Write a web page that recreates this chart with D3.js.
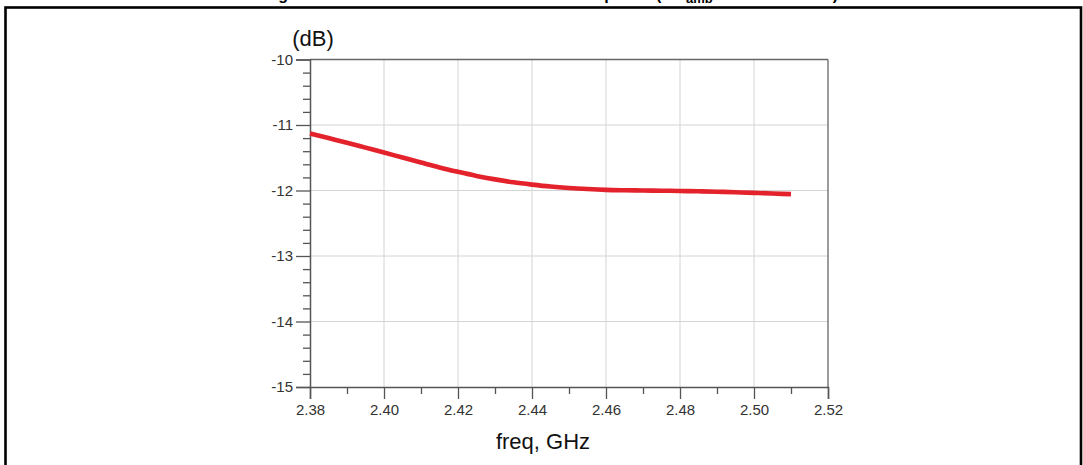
<!DOCTYPE html>
<html>
<head>
<meta charset="utf-8">
<script src="https://cdn.jsdelivr.net/npm/d3@7"></script>
<style>
  html, body { margin: 0; padding: 0; background: #fff; }
  svg { display: block; font-family: "Liberation Sans", Arial, sans-serif; }
</style>
</head>
<body>
<svg id="chart" width="1083" height="465"></svg>
<script>
// ---- data ----
const freq = [2.380, 2.385, 2.390, 2.395, 2.400, 2.405, 2.410, 2.415, 2.420, 2.425,
              2.430, 2.435, 2.440, 2.445, 2.450, 2.455, 2.460, 2.465, 2.470, 2.475,
              2.480, 2.485, 2.490, 2.495, 2.500, 2.505, 2.510];
const dB   = [-11.13, -11.20, -11.27, -11.345, -11.42, -11.497, -11.573, -11.648, -11.715, -11.777,
              -11.83, -11.875, -11.91, -11.94, -11.962, -11.978, -11.99, -11.996, -12.00, -12.003,
              -12.007, -12.012, -12.019, -12.027, -12.036, -12.046, -12.056];
const xTicks = [2.38, 2.40, 2.42, 2.44, 2.46, 2.48, 2.50, 2.52];
const xTickLabels = ["2.38", "2.40", "2.42", "2.44", "2.46", "2.48", "2.50", "2.52"];
const xMinor = [2.39, 2.41, 2.43, 2.45, 2.47, 2.49, 2.51];
const yTicks = [-10, -11, -12, -13, -14, -15];
const yTickLabels = ["-10", "-11", "-12", "-13", "-14", "-15"];
const yMinor = [];
for (let v = -15; v < -10; v += 1) { [0.2, 0.4, 0.6, 0.8].forEach(f => yMinor.push(+(v + f).toFixed(1))); }
const yUnit = "(dB)";
const xTitle = "freq, GHz";
const titleParts = ["Return loss of the LNA during", "S11 at 3.3 V and room temp", "(T", "amb", "= 25 °C)"];

// ---- layout ----
const svg = d3.select("#chart");
const L = 310, R = 828, T = 59.5, B = 387;
const x = d3.scaleLinear().domain([2.38, 2.52]).range([L, R]);
const y = d3.scaleLinear().domain([-15, -10]).range([B, T]);

// outer frame
svg.append("rect").attr("x", 5.5).attr("y", 7.5).attr("width", 1075.5).attr("height", 480)
  .attr("fill", "none").attr("stroke", "#000").attr("stroke-width", 2.6);

// partially visible title (cut off at the top edge, as in the reference)
const title = svg.append("g").attr("font-weight", "bold").attr("font-size", 16).attr("fill", "#000");
title.append("text").attr("x", 288).attr("y", -0.5).attr("text-anchor", "end").text(titleParts[0]);
title.append("text").attr("x", 614).attr("y", -0.5).attr("text-anchor", "end").text(titleParts[1]);
title.append("text").attr("x", 656).attr("y", -0.5).text(titleParts[2]);
title.append("text").attr("x", 686).attr("y", 3).attr("font-size", 13).text(titleParts[3]);
title.append("text").attr("x", 838).attr("y", -0.5).attr("text-anchor", "end").text(titleParts[4]);

// gridlines
const grid = svg.append("g").attr("stroke", "#d4d4d4").attr("stroke-width", 1);
grid.selectAll("line.v").data(xTicks.slice(1, -1)).join("line")
  .attr("x1", d => x(d)).attr("x2", d => x(d)).attr("y1", T).attr("y2", B);
grid.selectAll("line.h").data(yTicks.slice(1, -1)).join("line")
  .attr("y1", d => y(d)).attr("y2", d => y(d)).attr("x1", L).attr("x2", R);

// frame top/right
svg.append("line").attr("x1", L).attr("x2", R).attr("y1", T).attr("y2", T).attr("stroke", "#666").attr("stroke-width", 1.3);
svg.append("line").attr("x1", R).attr("x2", R).attr("y1", T).attr("y2", B).attr("stroke", "#666").attr("stroke-width", 1.3);

// y axis
svg.append("g").attr("transform", `translate(${L},0)`)
  .call(d3.axisLeft(y).tickValues(yTicks).tickFormat((d, i) => yTickLabels[i]).tickSize(14).tickPadding(3));
svg.append("g").attr("transform", `translate(${L},0)`)
  .call(d3.axisLeft(y).tickValues(yMinor).tickFormat("").tickSize(7))
  .call(g => g.select(".domain").remove());

// x axis
svg.append("g").attr("transform", `translate(0,${B})`)
  .call(d3.axisBottom(x).tickValues(xTicks).tickFormat((d, i) => xTickLabels[i]).tickSize(12).tickPadding(5));
svg.append("g").attr("transform", `translate(0,${B})`)
  .call(d3.axisBottom(x).tickValues(xMinor).tickFormat("").tickSize(7))
  .call(g => g.select(".domain").remove());

svg.selectAll(".domain").attr("stroke", "#555").attr("stroke-width", 1.5);
svg.selectAll(".tick line").attr("stroke", "#555").attr("stroke-width", 1.3);
svg.selectAll(".tick text").attr("font-size", 15).attr("fill", "#333")
  .attr("font-family", "'Liberation Sans', Arial, sans-serif");

// axis titles
svg.append("text").attr("x", 313).attr("y", 46).attr("text-anchor", "middle")
  .attr("font-size", 22).attr("fill", "#111").text(yUnit);
svg.append("text").attr("x", 543).attr("y", 449).attr("text-anchor", "middle")
  .attr("font-size", 22).attr("fill", "#111").text(xTitle);

// curve
const line = d3.line().x((d, i) => x(freq[i])).y(d => y(d)).curve(d3.curveMonotoneX);
svg.append("path").attr("d", line(dB)).attr("fill", "none")
  .attr("stroke", "#e3222b").attr("stroke-width", 4.6);
</script>
</body>
</html>
